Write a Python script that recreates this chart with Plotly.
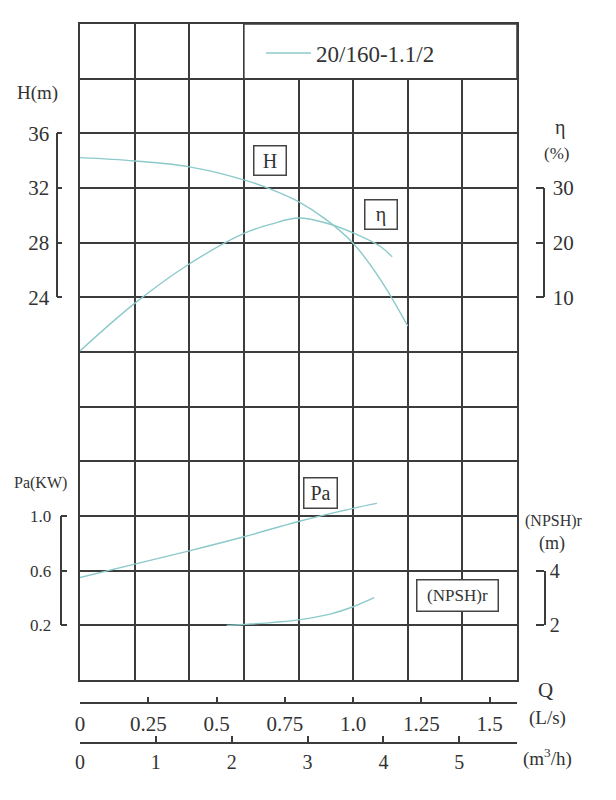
import plotly.graph_objects as go

# ---------------- data ----------------
series_name = "20/160-1.1/2"

q_head = [0.0, 0.2, 0.4, 0.6, 0.7, 0.8, 0.9, 1.0, 1.1, 1.2]
head_m = [34.22, 33.98, 33.55, 32.6, 31.9, 31.0, 29.7, 27.96, 25.3, 21.9]

q_eff = [0.0, 0.2, 0.4, 0.6, 0.7, 0.8, 0.9, 1.0, 1.1, 1.143]
eff_pct = [0.2, 8.9, 16.1, 21.7, 23.4, 24.5, 23.6, 21.8, 19.3, 17.4]

q_power = [0.0, 0.2, 0.4, 0.6, 0.8, 1.0, 1.087]
power_kw = [0.55, 0.648, 0.745, 0.848, 0.96, 1.056, 1.092]

q_npsh = [0.537, 0.6, 0.8, 0.915, 1.0, 1.077]
npsh_m = [2.0, 2.03, 2.2, 2.41, 2.68, 3.01]

ls_ticks = [0, 0.25, 0.5, 0.75, 1.0, 1.25, 1.5]
ls_labels = ["0", "0.25", "0.5", "0.75", "1.0", "1.25", "1.5"]
m3h_ticks = [0, 1, 2, 3, 4, 5]
m3h_labels = ["0", "1", "2", "3", "4", "5"]
head_ticks = [24, 28, 32, 36]
eff_ticks = [10, 20, 30]
power_ticks = [0.2, 0.6, 1.0]
power_labels = ["0.2", "0.6", "1.0"]
npsh_ticks = [2, 4]

# ---------------- style ----------------
OFF = 8                      # page body margin of the html page
W, H = 616 - 2 * OFF, 800 - 2 * OFF
FONT = "Liberation Serif, Times New Roman, serif"
TXT = "#333333"
GRID = "#3c3c3c"
CURVE = "#8cc9ca"


def fx(px):                  # picture x pixel -> paper fraction
    return (px - OFF) / W


def fy(py):                  # picture y pixel -> paper fraction
    return (H - (py - OFF)) / H


xdom = [fx(80), fx(517)]
ydom = [fy(680), fy(24)]
row = (ydom[1] - ydom[0]) / 12.0


def line_y(k):
    return ydom[1] - k * row


fig = go.Figure()

cl = dict(color=CURVE, width=1.4, shape="spline", smoothing=1.0)
fig.add_trace(go.Scatter(x=q_head, y=head_m, mode="lines", line=cl,
                         name=series_name, showlegend=True,
                         xaxis="x", yaxis="y", hoverinfo="skip"))
fig.add_trace(go.Scatter(x=q_eff, y=eff_pct, mode="lines", line=cl,
                         showlegend=False, xaxis="x", yaxis="y2", hoverinfo="skip"))
fig.add_trace(go.Scatter(x=q_power, y=power_kw, mode="lines", line=cl,
                         showlegend=False, xaxis="x", yaxis="y3", hoverinfo="skip"))
fig.add_trace(go.Scatter(x=q_npsh, y=npsh_m, mode="lines", line=cl,
                         showlegend=False, xaxis="x", yaxis="y4", hoverinfo="skip"))

# empty traces so that the scale axes are drawn
for xa, ya in [("x2", "y"), ("x3", "y"), ("x4", "y5"), ("x4", "y6"), ("x4", "y7"), ("x4", "y8")]:
    fig.add_trace(go.Scatter(x=[None], y=[None], mode="lines", showlegend=False,
                             xaxis=xa, yaxis=ya, hoverinfo="skip"))


def tickfont(s):
    return dict(family=FONT, size=s, color=TXT)


def bracket(domain, rng, pos, side, vals, size, ticklen, standoff, text=None):
    d = dict(domain=domain, range=rng, anchor="free", position=pos, side=side,
             tickmode="array", tickvals=vals, ticks="outside", ticklen=ticklen,
             tickwidth=1.5, tickcolor=GRID, showline=True, linecolor=GRID,
             linewidth=1.5, showgrid=False, zeroline=False, automargin=False,
             ticklabelposition="inside", ticklabeloverflow="allow",
             tickfont=tickfont(size), ticklabelstandoff=standoff)
    if text is not None:
        d["ticktext"] = text
    return d


def flow_axis(pos, rng, vals, text, size):
    return dict(overlaying="x", anchor="free", position=pos, range=rng,
                tickmode="array", tickvals=vals, ticktext=text,
                ticks="inside", ticklen=6, tickwidth=1.5, tickcolor=GRID,
                showline=True, linecolor=GRID, linewidth=1.5, showgrid=False,
                zeroline=False, side="bottom", tickfont=tickfont(size),
                ticklabelstandoff=2, automargin=False)


layout = dict(
    template="none",
    width=W, height=H, autosize=False,
    margin=dict(l=0, r=0, t=0, b=0, pad=0),
    paper_bgcolor="white", plot_bgcolor="rgba(0,0,0,0)",
    font=dict(family=FONT, color=TXT),
    showlegend=True,
    legend=dict(x=fx(261), y=fy(53), xanchor="left", yanchor="middle",
                bgcolor="rgba(0,0,0,0)", borderwidth=0, itemwidth=45,
                font=dict(family=FONT, size=23, color=TXT)),
    xaxis=dict(domain=xdom, range=[0, 1.6], dtick=0.2, tick0=0, automargin=False,
               showgrid=True, gridcolor=GRID, gridwidth=1.5,
               showline=True, linecolor=GRID, linewidth=1.5, mirror=True,
               zeroline=False, showticklabels=False, ticks=""),
    yaxis=dict(domain=ydom, range=[-4, 44], dtick=4, tick0=0, automargin=False,
               showgrid=True, gridcolor=GRID, gridwidth=1.5,
               showline=True, linecolor=GRID, linewidth=1.5, mirror=True,
               zeroline=False, showticklabels=False, ticks=""),
    yaxis2=dict(overlaying="y", range=[-60, 60], visible=False, automargin=False),
    yaxis3=dict(overlaying="y", range=[-0.2, 4.6], visible=False, automargin=False),
    yaxis4=dict(overlaying="y", range=[0, 24], visible=False, automargin=False),
    # bottom flow axes
    xaxis2=flow_axis(fy(703.3), [0, 1.6], ls_ticks, ls_labels, 21),
    xaxis3=flow_axis(fy(742.7), [0, 1.6 * 3.6], m3h_ticks, m3h_labels, 20),
    xaxis4=dict(domain=xdom, range=[0, 1.6], visible=False, anchor="y5", automargin=False),
    # bracket scale axes
    yaxis5=bracket([line_y(5), line_y(2)], [24, 36], fx(56.7), "right", head_ticks, 21, 5, 8),
    yaxis6=bracket([line_y(5), line_y(3)], [10, 30], fx(544.3), "left", eff_ticks, 21, 8, 9),
    yaxis7=bracket([line_y(11), line_y(9)], [0.2, 1.0], fx(60.7), "right", power_ticks, 17, 6, 9,
                   power_labels),
    yaxis8=bracket([line_y(11), line_y(10)], [2, 4], fx(545), "left", npsh_ticks, 20, 8, 5),
)
fig.update_layout(**layout)

# blank legend cell in the top row (columns 4-8)
fig.add_shape(type="rect", xref="x", yref="y", x0=0.6, x1=1.6, y0=40, y1=44,
              fillcolor="white", line=dict(color=GRID, width=1.5), layer="above")


def pxa(xp, yp, text, size, **kw):
    fig.add_annotation(x=fx(xp), y=fy(yp), xref="paper", yref="paper",
                       text=text, showarrow=False, xanchor="center", yanchor="middle",
                       font=dict(family=FONT, size=size, color=TXT), **kw)


box = dict(bordercolor="#444444", borderwidth=1.5, borderpad=2, bgcolor="white")
pxa(270, 160, "H", 20, width=27, height=24, **box)
pxa(381, 214, "η", 20, width=27, height=24, **box)
pxa(320, 492.5, "Pa", 20, width=28, height=25, **box)
pxa(457, 595, "(NPSH)r", 17, width=76, height=26, **box)

pxa(37.5, 93.5, "H(m)", 19)
pxa(40, 483, "Pa(KW)", 16)
pxa(560, 128, "η", 20)
pxa(556.7, 153, "(%)", 17)
pxa(553.8, 520.7, "(NPSH)r", 16)
pxa(551.7, 543.3, "(m)", 18)
pxa(545, 690, "Q", 21)
pxa(547.7, 718, "(L/s)", 19)
pxa(547.7, 757, "(m<sup>3</sup>/h)", 19)

fig.write_html("out.html")
